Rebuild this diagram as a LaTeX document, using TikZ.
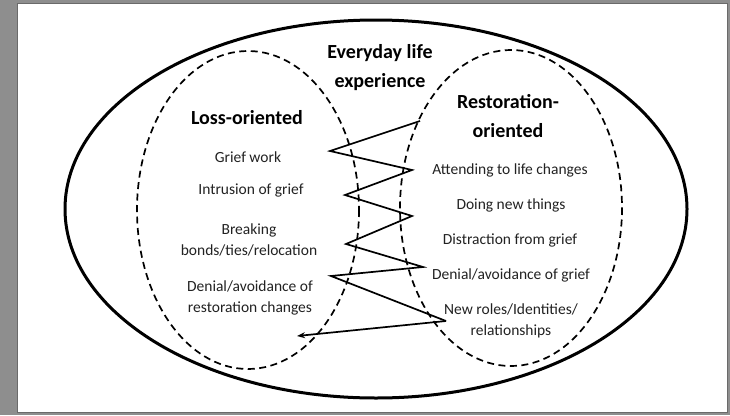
\documentclass[tikz,border=0pt]{standalone}
\usepackage{fontspec}
\setmainfont{Carlito}
\usetikzlibrary{arrows.meta}
\definecolor{framegray}{HTML}{8E8E8E}
\definecolor{edgegray}{HTML}{6A6A6A}
\definecolor{textgray}{HTML}{222222}
\begin{document}
\begin{tikzpicture}[x=1pt,y=-1pt,
  heading/.style={font=\fontsize{20}{28.5}\selectfont\bfseries, align=center, text=black, inner sep=0pt},
  item/.style={font=\fontsize{15.5}{21}\selectfont, align=center, text=textgray, inner sep=0pt},
  region/.style={draw=black, line width=1.7pt, dash pattern=on 7pt off 4.5pt},
  outerline/.style={draw=black, line width=3pt},
  swing/.style={draw=black, line width=1.7pt, line join=miter},
]
\useasboundingbox (0,0) rectangle (730,415);
% page frame
\fill[framegray] (0,0) rectangle (730,415);
\filldraw[fill=white, draw=edgegray, line width=0.8pt] (17.5,3) rectangle (727,412);

% everyday life experience and the two orientations
\draw[outerline] (376,209) ellipse [x radius=311, y radius=189];
\draw[region] (248,210) ellipse [x radius=111, y radius=159];
\draw[region] (511,208) ellipse [x radius=111, y radius=158];

% headings
\node[heading] (everyday) at (380,67.5) {Everyday life\\experience};
\node[heading] (loss) at (247,118) {Loss-oriented};
\node[heading] (resto) at (508,116) {Restoration-\\oriented};

% loss-oriented items
\node[item] (l1) at (248,157) {Grief work};
\node[item] (l2) at (251,190) {Intrusion of grief};
\node[item] (l3) at (249,239.5) {Breaking\\bonds/ties/relocation};
\node[item] (l4) at (250,297.5) {Denial/avoidance of\\restoration changes};

% restoration-oriented items
\node[item] (r1) at (510,170) {Attending to life changes};
\node[item] (r2) at (511,205) {Doing new things};
\node[item] (r3) at (510,240) {Distraction from grief};
\node[item] (r4) at (511,275) {Denial/avoidance of grief};
\node[item] (r5) at (511,321) {New roles/Identities/\\relationships};

% oscillation between the two orientations
\coordinate (z0) at (420,121);
\coordinate (z1) at (330,151);
\coordinate (z2) at (412,170);
\coordinate (z3) at (345,195);
\coordinate (z4) at (412,216);
\coordinate (z5) at (346,244);
\coordinate (z6) at (423,267);
\coordinate (z7) at (331,276);
\coordinate (z8) at (446,321);
\coordinate (z9) at (297,336);
\draw[swing] (z0) -- (z1) -- (z2) -- (z3) -- (z4) -- (z5) -- (z6) -- (z7) -- (z8);
\draw[swing, -{Stealth[length=8pt, width=6pt]}] (z8) -- (z9);
\end{tikzpicture}
\end{document}
